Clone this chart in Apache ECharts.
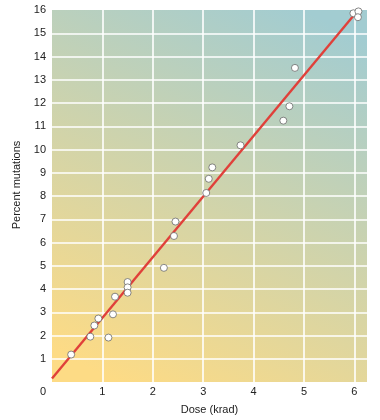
<!DOCTYPE html>
<html>
<head>
<meta charset="utf-8">
<script src="https://cdn.jsdelivr.net/npm/echarts@6/dist/echarts.min.js"></script>
<style>
html,body{margin:0;padding:0;background:#fff;}
#chart{width:380px;height:420px;}
</style>
</head>
<body>
<div id="chart"></div>
<script>
// Dose (krad) and percent mutations
const doseValues = [0.38, 0.76, 0.84, 0.92, 1.12, 1.21, 1.25, 1.50, 1.50, 1.50, 2.22, 2.42, 2.45,
  3.06, 3.11, 3.18, 3.74, 4.59, 4.71, 4.82, 5.98, 6.08, 6.07];
const mutationValues = [1.18, 1.95, 2.43, 2.73, 1.91, 2.91, 3.67, 4.30, 4.07, 3.84, 4.91, 6.28, 6.90,
  8.13, 8.74, 9.23, 10.18, 11.24, 11.86, 13.51, 15.86, 15.94, 15.69];
// Fitted line end points
const fitDose = [0, 6.03];
const fitMutation = [0.15, 15.88];

const xTicks = [0, 1, 2, 3, 4, 5, 6];
const yTicks = [0, 1, 2, 3, 4, 5, 6, 7, 8, 9, 10, 11, 12, 13, 14, 15, 16];

const chart = echarts.init(document.getElementById('chart'));
const font = 'Liberation Sans, Arial, Helvetica, sans-serif';
chart.setOption({
  animation: false,
  grid: {
    left: 52, right: 13, top: 10, bottom: 36,
    show: true, borderWidth: 0,
    backgroundColor: new echarts.graphic.LinearGradient(0.2, 1, 0.8, 0, [
      { offset: 0, color: '#fddb85' },
      { offset: 1, color: '#a2ccd1' }
    ])
  },
  xAxis: {
    type: 'value', min: 0, max: 6.25, interval: 1,
    name: 'Dose (krad)', nameLocation: 'middle', nameGap: 22,
    nameTextStyle: { fontFamily: font, fontSize: 11, color: '#222' },
    axisLine: { show: false }, axisTick: { show: false },
    axisLabel: {
      fontFamily: font, fontSize: 11, color: '#222', margin: 4,
      formatter: function (v) {
        if (v === 0) return '{o|0}';
        return xTicks.indexOf(v) >= 0 ? String(v) : '';
      },
      rich: { o: { fontFamily: font, fontSize: 11, color: '#222', padding: [0, 18, 0, 0] } }
    },
    splitLine: { show: true, showMinLine: false, showMaxLine: false, lineStyle: { color: '#ffffff', width: 1.6 } }
  },
  yAxis: {
    type: 'value', min: 0, max: 16, interval: 1,
    name: 'Percent mutations', nameLocation: 'middle', nameGap: 28,
    nameTextStyle: { fontFamily: font, fontSize: 11, color: '#222', padding: [0, 0, 0, 22] },
    axisLine: { show: false }, axisTick: { show: false },
    axisLabel: {
      fontFamily: font, fontSize: 11, color: '#222', margin: 6,
      formatter: function (v) { return (v === 0 || yTicks.indexOf(v) < 0) ? '' : String(v); }
    },
    splitLine: { show: true, showMinLine: false, showMaxLine: false, lineStyle: { color: '#ffffff', width: 1.6 } }
  },
  series: [
    {
      type: 'line',
      data: fitDose.map((x, i) => [x, fitMutation[i]]),
      symbol: 'none',
      lineStyle: { color: '#e0403a', width: 2.4 },
      z: 2
    },
    {
      type: 'scatter',
      data: doseValues.map((x, i) => [x, mutationValues[i]]),
      symbol: 'circle', symbolSize: 7,
      itemStyle: { color: '#ffffff', borderColor: '#6a6a6a', borderWidth: 0.8, opacity: 1 },
      z: 3
    }
  ]
});
</script>
</body>
</html>
